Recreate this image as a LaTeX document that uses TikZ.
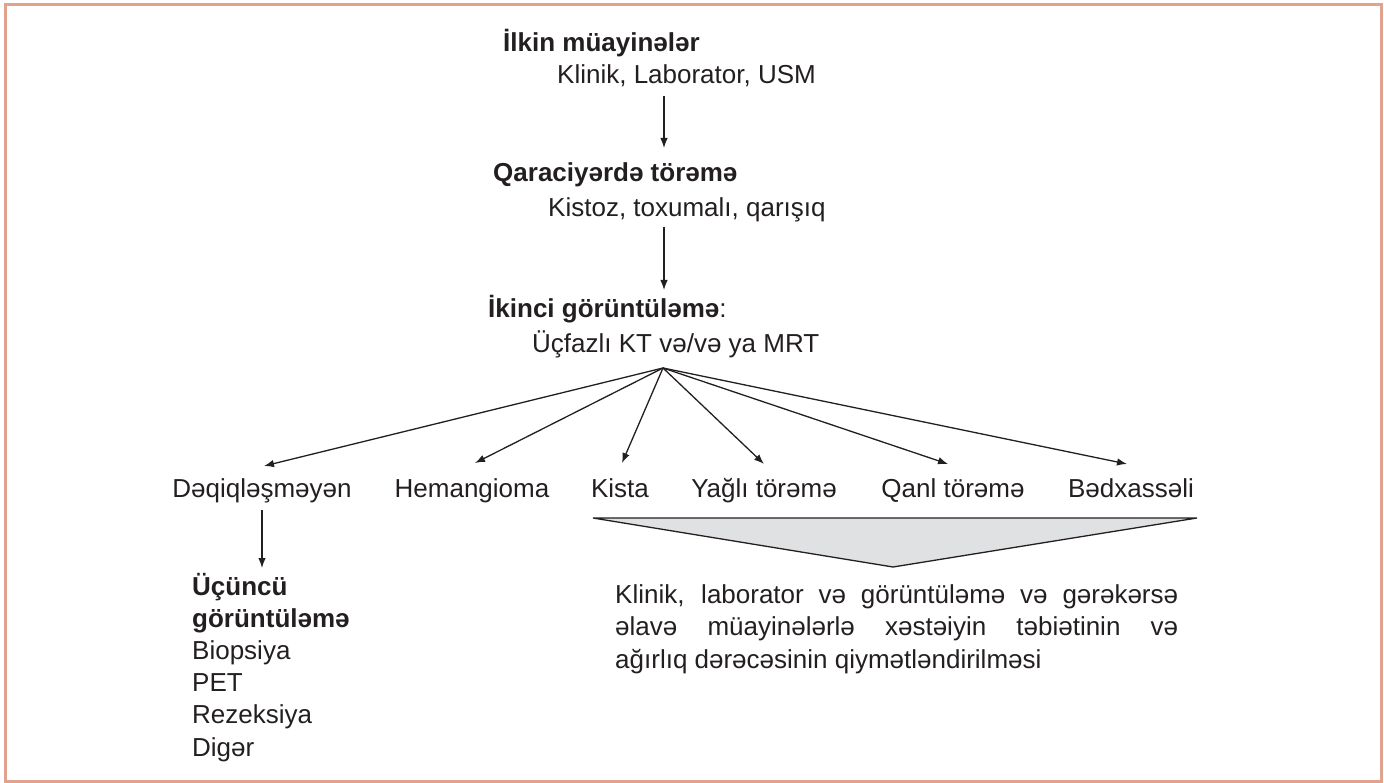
\documentclass[tikz,border=0pt]{standalone}
\usepackage{fontspec}
\setmainfont{Liberation Sans}
\usetikzlibrary{arrows.meta}
\definecolor{frame}{RGB}{226,162,142}
\definecolor{ink}{RGB}{35,31,32}
\definecolor{trifill}{RGB}{224,225,227}
\begin{document}
\begin{tikzpicture}[x=1pt,y=-1pt,
  txt/.style={inner sep=0pt, anchor=base west, text=ink, font=\fontsize{26}{33}\selectfont},
  boldtxt/.style={txt, font=\fontsize{26}{33}\selectfont\bfseries},
  lab/.style={inner sep=0pt, anchor=base, text=ink, font=\fontsize{26}{33}\selectfont},
  arr/.style={draw=ink, line width=1.3pt, -{Latex[length=10pt,width=7.5pt]}}]
\useasboundingbox (0,0) rectangle (1384,783);
\draw[line width=3pt, draw=frame] (5,5) rectangle (1381,781);

% top chain
\node[boldtxt] (t1) at (503,52) {İlkin müayinələr};
\node[txt] (t1s) at (557,84) {Klinik, Laborator, USM};
\node[boldtxt] (t2) at (493,182) {Qaraciyərdə törəmə};
\node[txt] (t2s) at (548,217) {Kistoz, toxumalı, qarışıq};
\node[boldtxt] (t3) at (488,318) {İkinci görüntüləmə\textmd{:}};
\node[txt] (t3s) at (532,353) {Üçfazlı KT və/və ya MRT};

\coordinate (a1s) at (664,96);
\coordinate (a1e) at (664,148);
\coordinate (a2s) at (664,227);
\coordinate (a2e) at (664,290);
\draw[arr] (a1s) -- (a1e);
\draw[arr] (a2s) -- (a2e);

% categories
\node[lab] (l1) at (262,497) {Dəqiqləşməyən};
\node[lab] (l2) at (472,497) {Hemangioma};
\node[lab] (l3) at (620,497) {Kista};
\node[lab] (l4) at (764,497) {Yağlı törəmə};
\node[lab] (l5) at (953,497) {Qanl törəmə};
\node[lab] (l6) at (1131,497) {Bədxassəli};

\coordinate (fan) at (663,368);
\coordinate (p1) at (264,466);
\coordinate (p2) at (475,463);
\coordinate (p3) at (622,463);
\coordinate (p4) at (764,464);
\coordinate (p5) at (948,464);
\coordinate (p6) at (1127,464);
\foreach \p in {p1,p2,p3,p4,p5,p6} \draw[arr] (fan) -- (\p);

% third imaging
\coordinate (d1s) at (262,510);
\coordinate (d1e) at (262,568);
\draw[arr] (d1s) -- (d1e);
\node[txt, font=\fontsize{26}{32.2}\selectfont] (third) at (192,595)
  {\begin{tabular}[t]{@{}l@{}}\textbf{Üçüncü}\\\textbf{görüntüləmə}\\Biopsiya\\PET\\Rezeksiya\\Digər\end{tabular}};

% funnel triangle
\coordinate (tl) at (593,518);
\coordinate (tr) at (1197,518);
\coordinate (tb) at (893,567);
\filldraw[fill=trifill, draw=ink, line width=1.3pt, line join=miter] (tl) -- (tr) -- (tb) -- cycle;

\node[txt, font=\fontsize{26}{32.5}\selectfont] (para) at (615,603)
  {\begin{tabular}[t]{@{}l@{}}\makebox[563pt][s]{Klinik, laborator və görüntüləmə və gərəkərsə}\\
   \makebox[563pt][s]{əlavə müayinələrlə xəstəiyin təbiətinin və}\\
   ağırlıq dərəcəsinin qiymətləndirilməsi\end{tabular}};
\end{tikzpicture}
\end{document}
